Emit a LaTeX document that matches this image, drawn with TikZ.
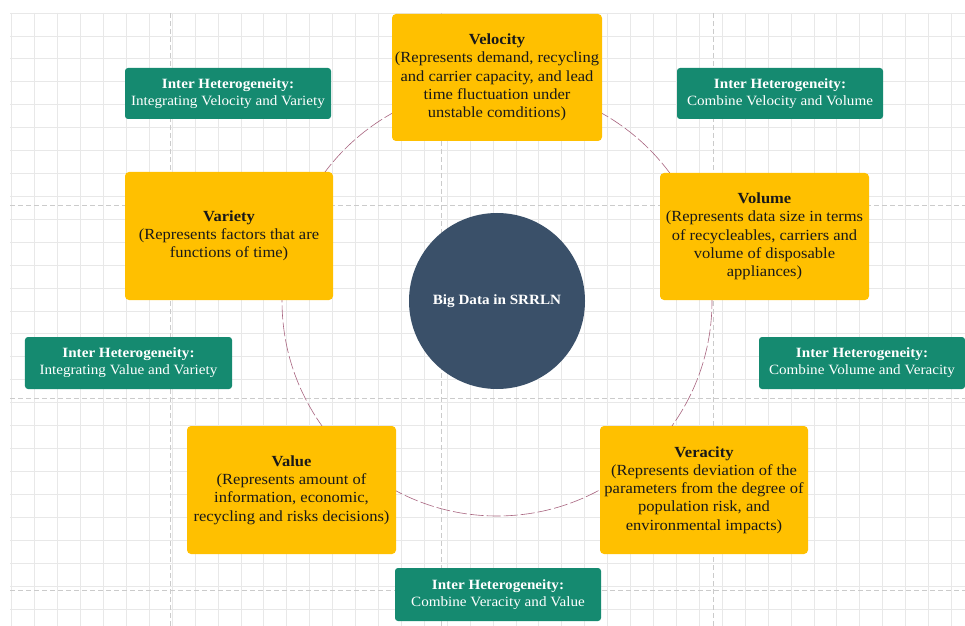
\documentclass[tikz,border=0pt]{standalone}
\usepackage{fontspec}
\setmainfont{Liberation Serif}[FakeStretch=1.07]
\begin{document}
\definecolor{gold}{HTML}{FFC000}
\definecolor{teal}{HTML}{158A70}
\definecolor{navy}{HTML}{3A5069}
\definecolor{ringc}{HTML}{A8647F}
\definecolor{gridc}{HTML}{E8E8E8}
\definecolor{pagec}{HTML}{CBCBCB}
\begin{tikzpicture}[x=1bp,y=-1bp,
  fact/.style={rectangle, rounded corners=4bp, fill=gold, text=black!90,
    align=center, inner sep=0pt, font=\fontsize{15.5}{18.3}\selectfont},
  link/.style={rectangle, rounded corners=3bp, fill=teal, text=white,
    align=center, inner sep=0pt, font=\fontsize{14.2}{17}\selectfont},
  hub/.style={circle, fill=navy, text=white, inner sep=0pt,
    minimum size=176bp, font=\bfseries\fontsize{14.2}{17}\selectfont},
  ring/.style={draw=ringc, line width=0.6bp, dash pattern=on 14bp off 3bp},
  gridline/.style={draw=gridc, line width=0.8bp},
  pageline/.style={draw=pagec, line width=0.7bp, dash pattern=on 5bp off 3bp}]
\useasboundingbox[fill=white] (0,0) rectangle (965,626);

% background grid
\foreach \i in {0,...,41} {
  \draw[gridline] ({11.7+22.92*\i},13) -- ({11.7+22.92*\i},626);
}
\foreach \j in {0,...,26} {
  \draw[gridline] (10,{13+22.92*\j}) -- (965,{13+22.92*\j});
}
% page break guides
\foreach \x in {170,441,713} \draw[pageline] (\x,13) -- (\x,626);
\foreach \y in {205,398,590} \draw[pageline] (10,\y) -- (965,\y);

% central hub and its orbit
\node[hub] (hub) at (497,301) {Big Data in SRRLN};
\draw[ring] (hub.center) circle[radius=215bp];

% the five V's
\node[fact, minimum width=210bp, minimum height=127bp] (velocity) at (497,77.5)
  {\textbf{Velocity}\\(Represents demand, recycling\\and carrier capacity, and lead\\time fluctuation under\\unstable comditions)};
\node[fact, minimum width=208bp, minimum height=128bp] (variety) at (229,236)
  {\textbf{Variety}\\(Represents factors that are\\functions of time)};
\node[fact, minimum width=209bp, minimum height=127bp] (volume) at (764.5,236.5)
  {\textbf{Volume}\\(Represents data size in terms\\of recycleables, carriers and\\volume of disposable\\appliances)};
\node[fact, minimum width=209bp, minimum height=128bp] (value) at (291.5,490)
  {\textbf{Value}\\(Represents amount of\\information, economic,\\recycling and risks decisions)};
\node[fact, minimum width=208bp, minimum height=128bp] (veracity) at (704,490)
  {\textbf{Veracity}\\(Represents deviation of the\\parameters from the degree of\\population risk, and\\environmental impacts)};

% heterogeneity links
\node[link, minimum width=206bp, minimum height=51bp] (velvar) at (228,93.5)
  {\textbf{Inter Heterogeneity:}\\Integrating Velocity and Variety};
\node[link, minimum width=206bp, minimum height=51bp] (velvol) at (780,93.5)
  {\textbf{Inter Heterogeneity:}\\Combine Velocity and Volume};
\node[link, minimum width=207bp, minimum height=52bp] (valvar) at (128.5,363)
  {\textbf{Inter Heterogeneity:}\\Integrating Value and Variety};
\node[link, minimum width=206bp, minimum height=52bp] (volver) at (862,363)
  {\textbf{Inter Heterogeneity:}\\Combine Volume and Veracity};
\node[link, minimum width=206bp, minimum height=53bp] (verval) at (498,594.5)
  {\textbf{Inter Heterogeneity:}\\Combine Veracity and Value};
\end{tikzpicture}
\end{document}
